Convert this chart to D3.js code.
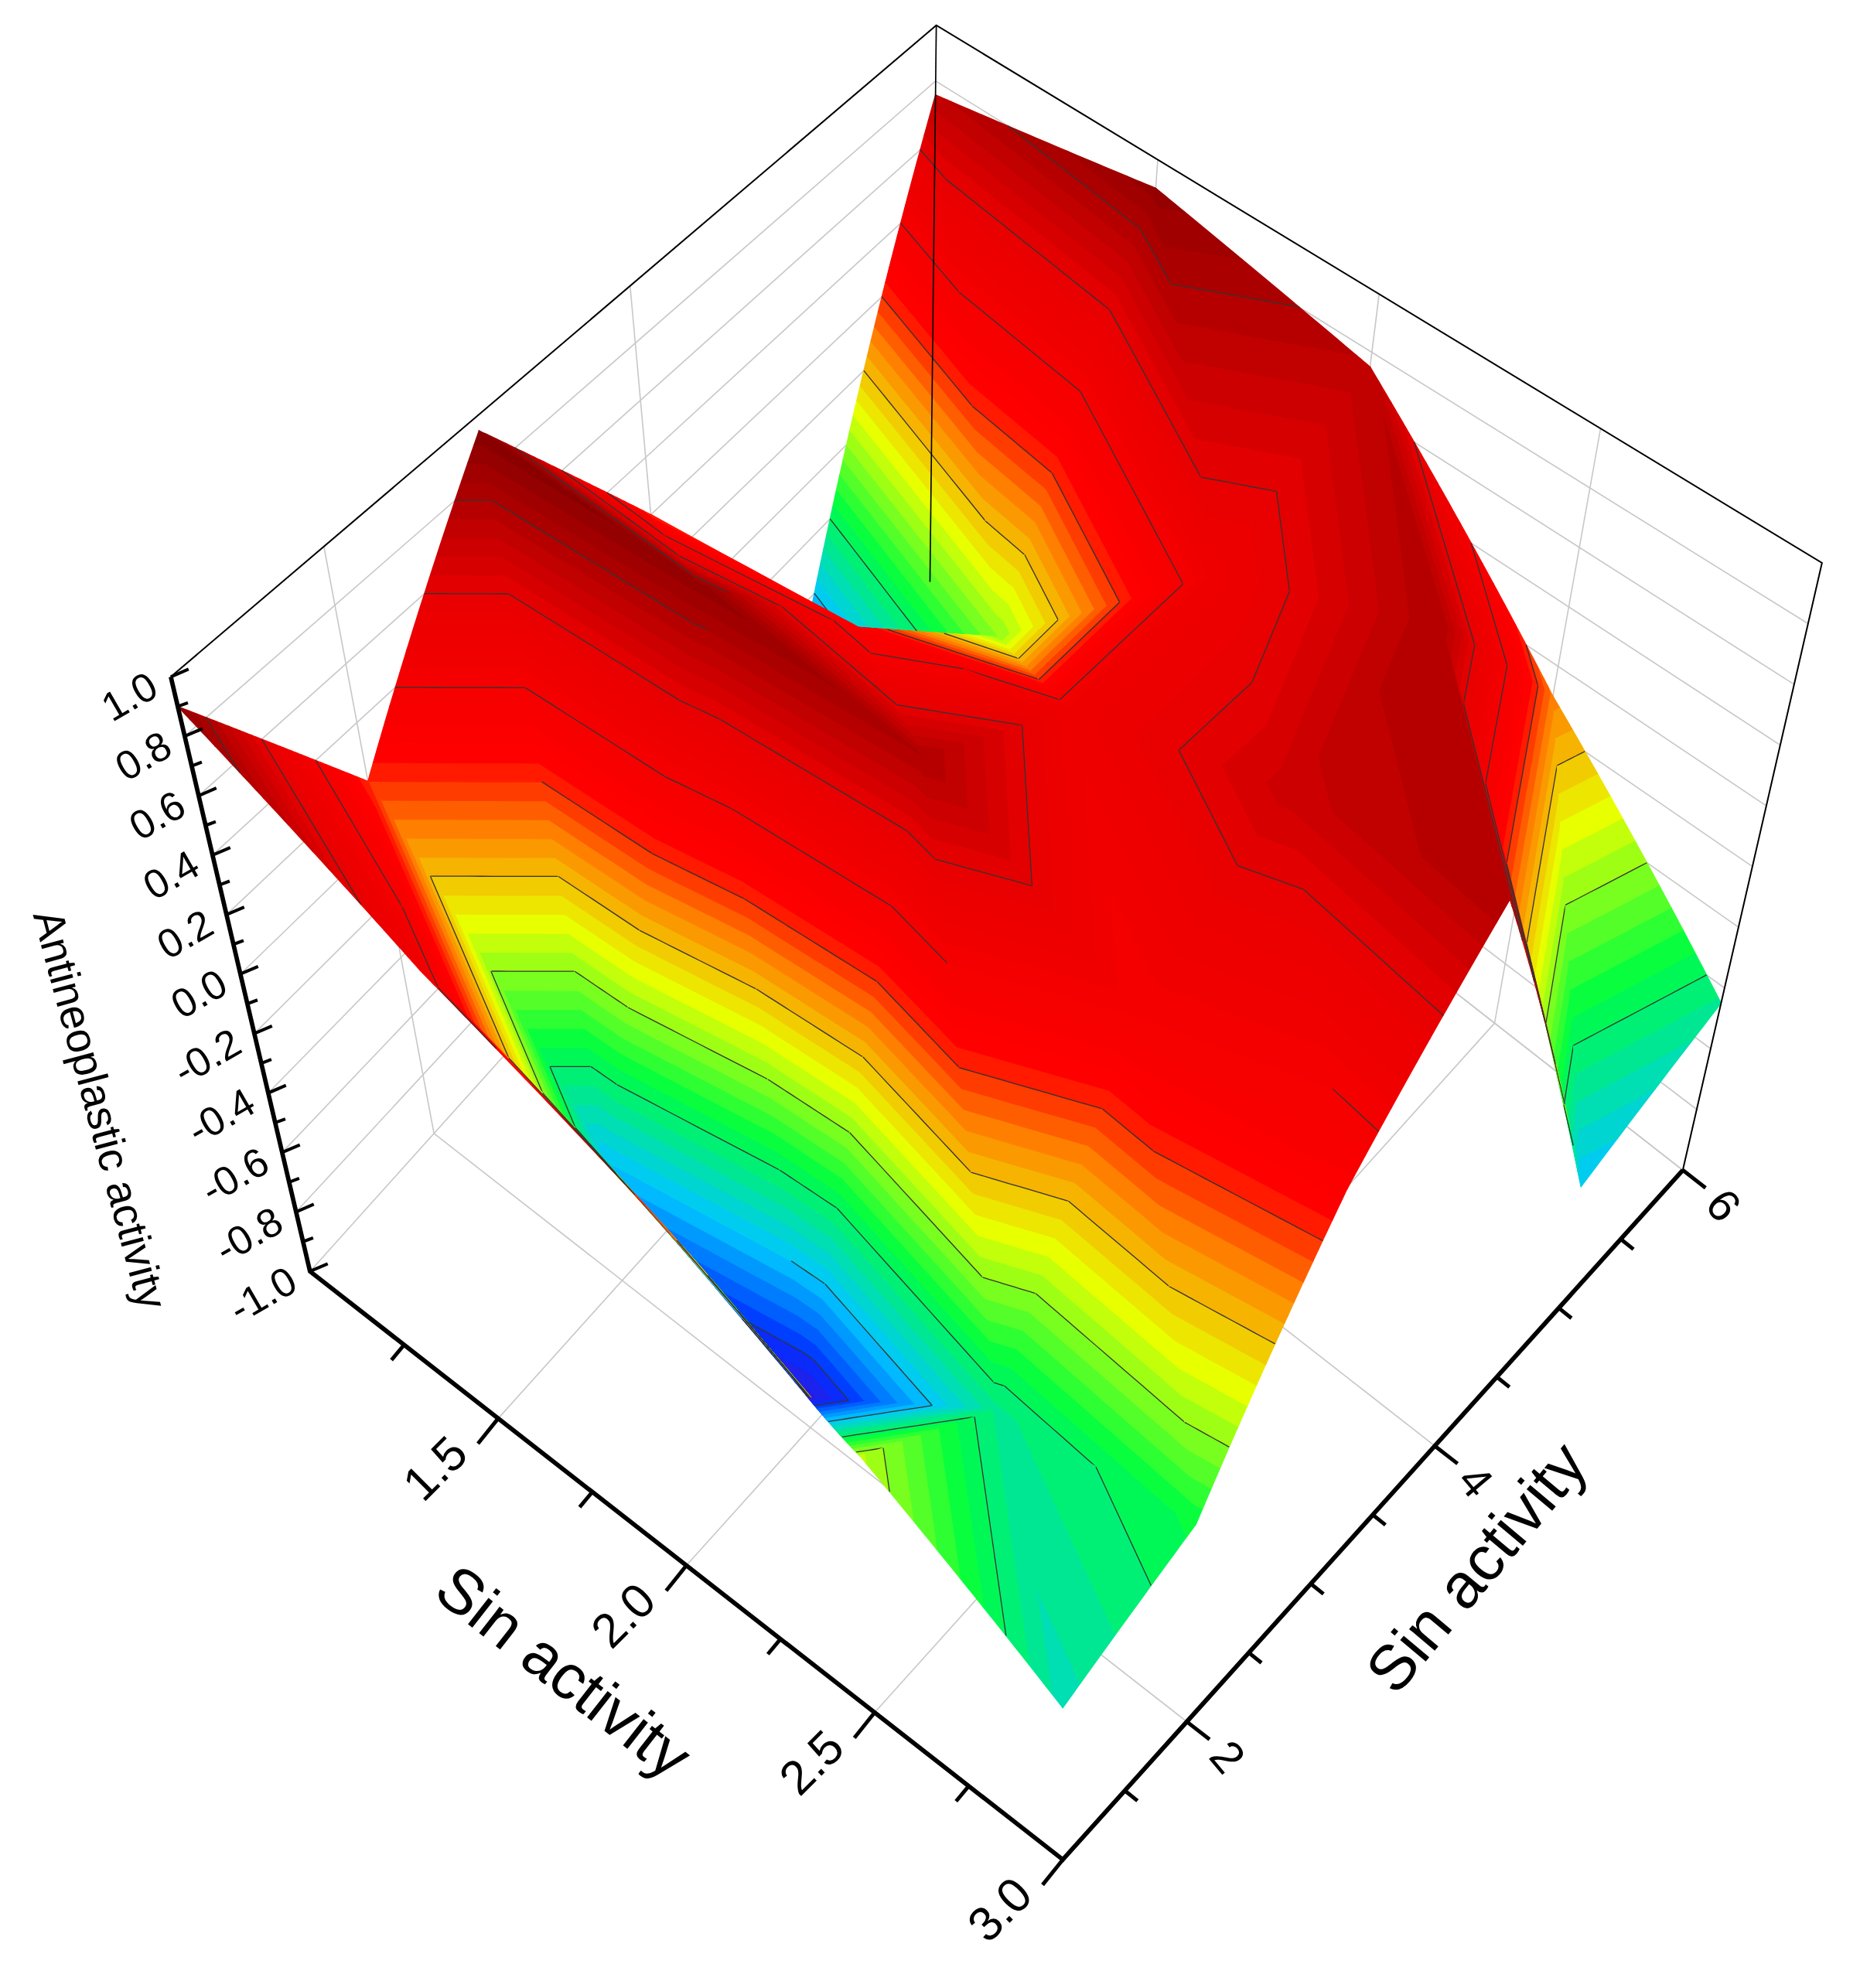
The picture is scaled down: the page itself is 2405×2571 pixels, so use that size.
<!DOCTYPE html>
<html lang="en">
<head>
<meta charset="UTF-8">
<style>
  body { margin: 0; background: #fff; }
  svg text { font-family: "Liberation Sans", Arial, sans-serif; fill: #000; }
</style>
<script src="https://d3js.org/d3.v7.min.js"></script>
</head>
<body>
<svg id="chart" width="2405" height="2571"></svg>
<script>
// surface grid (rough)
var xVals = [1, 1.5, 2, 2.5, 3];
var yVals = [1, 2, 3, 4, 5, 6];
var zRows = [
  [0.9, 0.2, 0.95, 0.2, -0.75, 0.75],
  [0.5, -0.6, 0.9, 0.3, -0.2, 0.9],
  [0.2, -0.9, 0.8, 0.5, 0.5, 0.75],
  [-0.15, -0.45, 0.4, 0.7, 0.8, 0.1],
  [-0.5, -0.35, 0.3, 0.8, -0.6, -0.45]
];
var xTicks = [1.5, 2.0, 2.5, 3.0];
var yTicks = [2, 4, 6];
var zTicks = [-1.0, -0.8, -0.6, -0.4, -0.2, 0.0, 0.2, 0.4, 0.6, 0.8, 1.0];
var levels = [-0.8, -0.6, -0.4, -0.2, 0, 0.2, 0.4, 0.6, 0.8];

var svg = d3.select("#chart");
var g = svg.append("g").attr("transform", "scale(1.636)");

var xs = d3.scaleLinear().domain([1, 3]).range([0, 1]);
var ys = d3.scaleLinear().domain([1, 6]).range([0, 1]);
var zs = d3.scaleLinear().domain([-1, 1]).range([0, 1]);

// screen positions of the box corners [u][v][w]
var C = {
  "000": [245, 1005], "100": [840, 1470], "010": [735, 460], "110": [1330, 925],
  "001": [135, 535], "101": [840, 990], "011": [740, 20], "111": [1440, 445]
};
function P(x, y, z) {
  var u = xs(x), v = ys(y), w = zs(z), r = [0, 0];
  for (var a = 0; a < 2; a++) for (var b = 0; b < 2; b++) for (var c = 0; c < 2; c++) {
    var f = (a ? u : 1 - u) * (b ? v : 1 - v) * (c ? w : 1 - w);
    var p = C["" + a + b + c];
    r[0] += f * p[0]; r[1] += f * p[1];
  }
  return r;
}
var line = d3.line();

var color = d3.scaleLinear()
  .domain([-1, -0.8, -0.6, -0.35, -0.1, 0.1, 0.25, 0.6, 1])
  .range(["#6000c0", "#0030ff", "#00c8ff", "#00ff40", "#e8ff00", "#ff8000", "#ff0000", "#e80000", "#7a0000"])
  .clamp(true);

// back walls and floor grid
var grid = g.append("g").attr("stroke", "#c8c8c8").attr("stroke-width", 1).attr("fill", "none");
zTicks.forEach(function (z) {
  grid.append("path").attr("d", line([P(1, 1, z), P(1, 6, z), P(3, 6, z)]));
});
yTicks.forEach(function (y) {
  grid.append("path").attr("d", line([P(1, y, -1), P(1, y, 1)]));
  grid.append("path").attr("d", line([P(1, y, -1), P(3, y, -1)]));
});
xTicks.forEach(function (x) {
  grid.append("path").attr("d", line([P(x, 6, -1), P(x, 6, 1)]));
  grid.append("path").attr("d", line([P(x, 1, -1), P(x, 6, -1)]));
});

// clip a polygon of {x,y,z} to z >= L (sign 1) or z <= L (sign -1)
function clip(poly, L, sign) {
  var out = [];
  for (var k = 0; k < poly.length; k++) {
    var p = poly[k], q = poly[(k + 1) % poly.length];
    var pin = sign * (p.z - L) >= 0, qin = sign * (q.z - L) >= 0;
    if (pin) out.push(p);
    if (pin !== qin) {
      var f = (L - p.z) / (q.z - p.z);
      out.push({ x: p.x + f * (q.x - p.x), y: p.y + f * (q.y - p.y), z: L });
    }
  }
  return out;
}
function subdivide(poly) {
  var out = [];
  for (var k = 0; k < poly.length; k++) {
    var p = poly[k], q = poly[(k + 1) % poly.length];
    for (var m = 0; m < 6; m++) {
      var f = m / 6;
      out.push(P(p.x + f * (q.x - p.x), p.y + f * (q.y - p.y), p.z + f * (q.z - p.z)));
    }
  }
  return out;
}

// surface: each grid cell is two flat triangles, drawn far to near in colour bands
var tris = [];
for (var i = 0; i < xVals.length - 1; i++)
  for (var j = 0; j < yVals.length - 1; j++) {
    var v00 = { x: xVals[i], y: yVals[j], z: zRows[i][j] },
        v10 = { x: xVals[i + 1], y: yVals[j], z: zRows[i + 1][j] },
        v01 = { x: xVals[i], y: yVals[j + 1], z: zRows[i][j + 1] },
        v11 = { x: xVals[i + 1], y: yVals[j + 1], z: zRows[i + 1][j + 1] };
    tris.push({ v: [v00, v10, v01], d: i + 0.33 - (j + 0.33) });
    tris.push({ v: [v10, v11, v01], d: i + 0.67 - (j + 0.67) });
  }
tris.sort(function (p, q) { return p.d - q.d; });

var surf = g.append("g");
var step = 0.04;
tris.forEach(function (t) {
  var tg = surf.append("g");
  for (var L = -1.2; L < 1.2; L += step) {
    var poly = clip(clip(t.v, L, 1), L + step, -1);
    if (poly.length < 3) continue;
    var col = color(L + step / 2);
    tg.append("path").attr("d", line(subdivide(poly)) + "Z")
      .attr("fill", col).attr("stroke", col).attr("stroke-width", 0.8).attr("stroke-linejoin", "round");
  }
  levels.forEach(function (L) {
    var seg = [];
    for (var k = 0; k < 3; k++) {
      var p = t.v[k], q = t.v[(k + 1) % 3];
      if ((p.z - L) * (q.z - L) < 0) {
        var f = (L - p.z) / (q.z - p.z);
        seg.push({ x: p.x + f * (q.x - p.x), y: p.y + f * (q.y - p.y) });
      }
    }
    if (seg.length === 2) {
      var pts = d3.range(0, 1.001, 0.1).map(function (f) {
        return P(seg[0].x + f * (seg[1].x - seg[0].x), seg[0].y + f * (seg[1].y - seg[0].y), L);
      });
      tg.append("path").attr("d", line(pts)).attr("stroke", "#333").attr("stroke-width", 0.8).attr("fill", "none");
    }
  });
});

// box edges
var box = g.append("g").attr("fill", "none").attr("stroke", "#000");
box.append("path").attr("stroke-width", 1.2).attr("d", line([P(1, 1, 1), P(1, 6, 1), P(3, 6, 1), P(3, 6, -1)]));
box.append("path").attr("stroke-width", 1).attr("d", line([P(1, 6, 1), P(1, 6, -1)]));
box.append("path").attr("stroke-width", 3.5).attr("d", line([P(1, 1, 1), P(1, 1, -1), P(3, 1, -1), P(3, 6, -1)]));

// ticks and labels
var ax = g.append("g");
function tick(p, dx, dy, w) {
  ax.append("line").attr("x1", p[0]).attr("y1", p[1]).attr("x2", p[0] + dx).attr("y2", p[1] + dy)
    .attr("stroke", "#000").attr("stroke-width", w);
}
// x axis (front left)
d3.range(1.25, 3.01, 0.25).forEach(function (x) {
  var major = Math.abs(x * 2 - Math.round(x * 2)) < 1e-6;
  tick(P(x, 1, -1), major ? -16 : -10, major ? 20 : 12, 3);
});
xTicks.forEach(function (x) {
  var p = P(x, 1, -1);
  ax.append("text").attr("transform", "translate(" + (p[0] - 22) + "," + (p[1] + 30) + ") rotate(-45)")
    .attr("text-anchor", "end").attr("font-size", 38).text(x.toFixed(1));
});
// y axis (front right)
d3.range(1.5, 6.01, 0.5).forEach(function (y) {
  var major = Math.abs(y - Math.round(y)) < 1e-6 && Math.round(y) % 2 === 0;
  tick(P(3, y, -1), major ? 18 : 10, major ? 14 : 8, 3);
});
yTicks.forEach(function (y) {
  var p = P(3, y, -1);
  ax.append("text").attr("transform", "translate(" + (p[0] + 26) + "," + (p[1] + 20) + ") rotate(50)")
    .attr("text-anchor", "start").attr("dy", "0.35em").attr("font-size", 36).text(y);
});
// z axis
d3.range(-1, 1.001, 0.1).forEach(function (z, k) {
  tick(P(1, 1, z), k % 2 === 0 ? 14 : 8, k % 2 === 0 ? -6 : -3, 2.5);
});
zTicks.forEach(function (z) {
  var p = P(1, 1, z);
  ax.append("text").attr("transform", "translate(" + (p[0] - 8) + "," + (p[1] + 14) + ") rotate(-30)")
    .attr("text-anchor", "end").attr("font-size", 32).text(z.toFixed(1));
});
// axis titles
ax.append("text").attr("transform", "translate(435,1335) rotate(38)")
  .attr("text-anchor", "middle").attr("font-size", 50).text("Sin activity");
ax.append("text").attr("transform", "translate(1180,1250) rotate(-50)")
  .attr("text-anchor", "middle").attr("font-size", 50).text("Sin activity");
ax.append("text").attr("transform", "translate(68,880) rotate(75)")
  .attr("text-anchor", "middle").attr("font-size", 34).text("Antineoplastic activity");
</script>
</body>
</html>
